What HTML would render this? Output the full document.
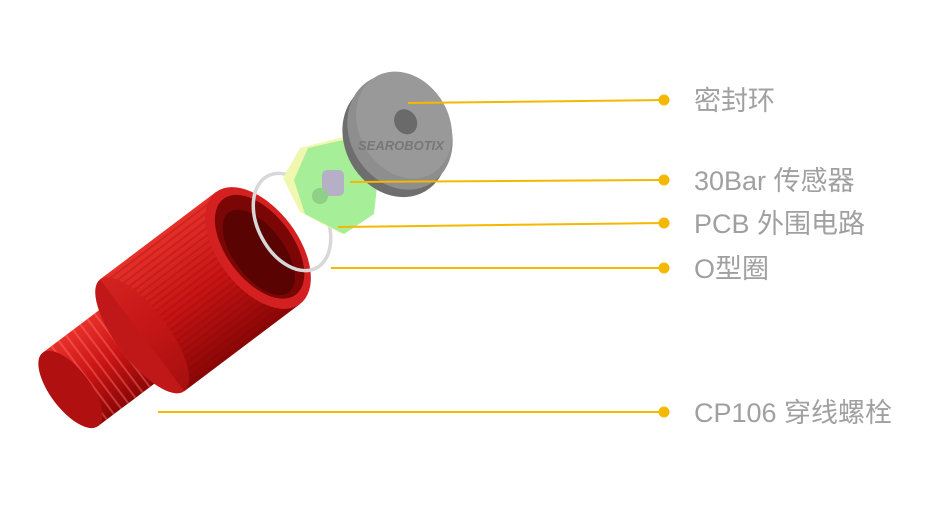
<!DOCTYPE html>
<html><head><meta charset="utf-8"><style>
html,body{margin:0;padding:0;background:#fff;width:945px;height:532px;overflow:hidden}
svg{display:block}
text{font-family:"Liberation Sans","Noto Sans CJK SC",sans-serif;fill:#a0a0a0;font-size:27px}
</style></head><body>
<svg width="945" height="532" viewBox="0 0 945 532">
<defs>
<linearGradient id="red" x1="0" y1="0" x2="0" y2="1">
<stop offset="0" stop-color="#e8302a"/><stop offset="0.5" stop-color="#c81414"/><stop offset="1" stop-color="#8a0606"/></linearGradient>
<pattern id="knurl" width="6" height="6" patternUnits="userSpaceOnUse"><rect y="0" width="6" height="2" fill="#7a0404" opacity="0.45"/></pattern>
<pattern id="thread" width="9" height="9" patternUnits="userSpaceOnUse"><rect x="0" width="2" height="9" fill="#ff7070" opacity="0.45"/></pattern>
</defs>
<g transform="translate(258,248) rotate(-37)">
  <rect x="-235" y="-46" width="110" height="92" fill="url(#red)"/>
  <rect x="-235" y="-46" width="110" height="92" fill="url(#thread)"/>
  <ellipse cx="-235" cy="0" rx="20" ry="46" fill="#b01010"/>
  <rect x="-145" y="-70" width="145" height="140" fill="url(#red)"/>
  <rect x="-145" y="-70" width="145" height="140" fill="url(#knurl)"/>
  <ellipse cx="-145" cy="0" rx="26" ry="70" fill="#c01818"/>
  <rect x="-145" y="-70" width="145" height="140" fill="url(#red)" opacity="0.5"/>
  <ellipse cx="0" cy="0" rx="40" ry="70" fill="#d42020"/>
  <ellipse cx="2" cy="0" rx="33" ry="60" fill="#7a0606"/>
  <ellipse cx="-2" cy="4" rx="25" ry="50" fill="#5a0303"/>
</g>
<ellipse cx="292" cy="222" rx="34" ry="52" transform="rotate(-28 292 222)" fill="none" stroke="#d8d8d8" stroke-width="3.5"/>
<polygon points="300,148 347,136 376,165 372,212 342,234 300,212 283,178" fill="#f0f8b0"/>
<polygon points="308,148 352,138 379,168 374,214 344,234 305,214 294,180" fill="#a6ee98"/>
<rect x="322" y="170" width="22" height="26" rx="5" fill="#b6b0c6"/>
<circle cx="320" cy="196" r="8" fill="#8fcf86"/>
<g transform="rotate(-30 400 132)">
  <ellipse cx="392" cy="136" rx="50" ry="60" fill="#6e6e6e"/>
  <ellipse cx="400" cy="132" rx="50" ry="60" fill="#8e8e8e"/>
  <ellipse cx="407" cy="128" rx="45" ry="56" fill="#999"/>
  <ellipse cx="410" cy="126" rx="11" ry="13" fill="#6a6a6a"/>
</g>
<text x="358" y="150" style="font-size:13px;font-weight:bold;fill:#777;font-style:italic">SEAROBOTIX</text>
<g stroke="#f5b800" stroke-width="2">
<line x1="408" y1="103" x2="664" y2="100"/>
<line x1="350" y1="182" x2="664" y2="180"/>
<line x1="338" y1="227" x2="664" y2="223"/>
<line x1="331" y1="268" x2="664" y2="268"/>
<line x1="158" y1="412" x2="664" y2="412"/>
</g>
<g fill="#f5b800">
<circle cx="664" cy="100" r="5.5"/><circle cx="664" cy="180" r="5.5"/><circle cx="664" cy="223" r="5.5"/><circle cx="664" cy="268" r="5.5"/><circle cx="664" cy="412" r="5.5"/>
</g>
<text x="694" y="110">密封环</text>
<text x="694" y="190">30Bar 传感器</text>
<text x="694" y="233">PCB 外围电路</text>
<text x="694" y="278">O型圈</text>
<text x="694" y="422">CP106 穿线螺栓</text>
</svg>
</body></html>
